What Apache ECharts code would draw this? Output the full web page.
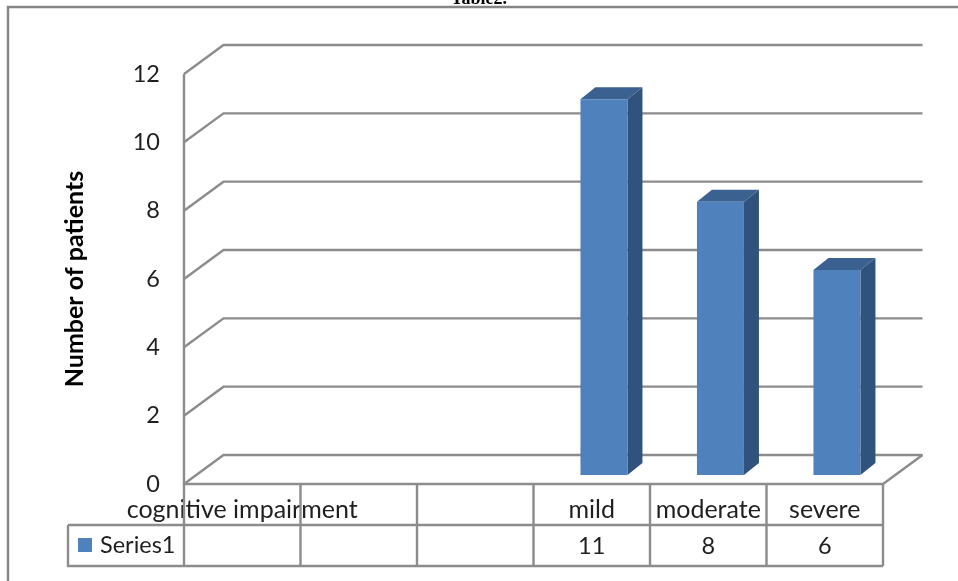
<!DOCTYPE html>
<html><head><meta charset="utf-8">
<style>html,body{margin:0;padding:0;background:#fff}#c{width:958px;height:581px}</style>
<script src="https://cdn.jsdelivr.net/npm/echarts@6/dist/echarts.min.js"></script>
</head><body><div id="c"></div>
<script>
var categories = ['cognitive impairment', '', '', 'mild', 'moderate', 'severe'];
var seriesName = 'Series1';
var seriesValues = [null, null, null, 11, 8, 6];
var yTicks = [0, 2, 4, 6, 8, 10, 12];
var yTitle = 'Number of patients';
var topText = 'Table2.';

var FONT = 'Lato';
var GRID = '#8c8c8c';
var TXT = '#1f1f1f';
var chart = echarts.init(document.getElementById('c'), null, {renderer: 'canvas'});
var DX = 39.5, DY = -29;
var ln = function (pts, w) {
  return {type: 'polyline', shape: {points: pts}, silent: true,
    style: {fill: null, stroke: GRID, lineWidth: w || 2.4, lineJoin: 'miter'}};
};
var ROW1 = 525, ROW2 = 566, TABLE_LEFT = 68;

chart.setOption({
  animation: false,
  backgroundColor: '#fff',
  legend: {
    data: [seriesName], left: 78, top: 533, itemWidth: 14, itemHeight: 14, itemGap: 0,
    icon: 'rect', textStyle: {fontFamily: FONT, fontSize: 23.5, color: TXT, padding: [0, 0, 0, 3]},
    padding: 0, selectedMode: false
  },
  grid: {left: 184, top: 74, width: 699, height: 410},
  xAxis: {
    type: 'category', data: categories, boundaryGap: true,
    axisLine: {show: false}, axisTick: {show: false}, splitLine: {show: false},
    axisLabel: {interval: 0, hideOverlap: false, margin: 13, fontFamily: FONT, fontSize: 25, color: TXT}
  },
  yAxis: {
    type: 'value', min: 0, max: 12, interval: 2,
    name: yTitle, nameLocation: 'middle', nameRotate: 90, nameGap: 97,
    nameTextStyle: {fontFamily: FONT, fontSize: 25, fontWeight: 'bold', color: '#000'},
    axisLine: {show: false}, axisTick: {show: false}, splitLine: {show: false},
    axisLabel: {margin: 24, fontFamily: FONT, fontSize: 23.5, color: TXT, padding: [3, 0, 0, 0]}
  },
  graphic: [
    {type: 'polyline', silent: true, shape: {points: [[8, 581], [8, 7], [958, 7]]},
      style: {fill: null, stroke: '#858585', lineWidth: 2.4}},
    {type: 'text', silent: true, x: 479, y: -10,
      style: {text: topText, fontFamily: 'Liberation Serif', fontSize: 18, fontWeight: 'bold', fill: '#000', align: 'center'}}
  ],
  series: [
    {
      type: 'custom', coordinateSystem: 'cartesian2d', z: 1, silent: true,
      encode: {y: 0}, data: yTicks.map(function (t) { return [t]; }),
      renderItem: function (p, api) {
        var y = api.coord([0, api.value(0)])[1];
        var x0 = p.coordSys.x, x1 = x0 + p.coordSys.width;
        return ln([[x0, y], [x0 + DX, y + DY], [x1 + DX, y + DY]]);
      }
    },
    {
      type: 'custom', coordinateSystem: 'cartesian2d', z: 2, silent: true,
      data: [[0]],
      renderItem: function (p) {
        var c = p.coordSys, x0 = c.x, x1 = c.x + c.width, yT = c.y, yB = c.y + c.height;
        var kids = [
          ln([[x0, yT], [x0, yB], [x1, yB], [x1 + DX, yB + DY]]),
          ln([[TABLE_LEFT, ROW1], [x1, ROW1]]),
          ln([[TABLE_LEFT, ROW1], [TABLE_LEFT, ROW2], [x1, ROW2]])
        ];
        for (var i = 0; i <= categories.length; i++) {
          var x = x0 + c.width * i / categories.length;
          kids.push(ln([[x, yB], [x, ROW2]]));
        }
        return {type: 'group', children: kids};
      }
    },
    {
      name: seriesName, type: 'custom', coordinateSystem: 'cartesian2d', z: 3,
      itemStyle: {color: '#4F81BD'},
      encode: {x: 0, y: 1},
      data: seriesValues.map(function (v, i) { return [i, v]; }),
      renderItem: function (p, api) {
        if (api.value(1) == null || isNaN(api.value(1))) return null;
        var idx = api.value(0), v = api.value(1);
        var top = api.coord([idx, v]), base = api.coord([idx, 0]);
        var w = 47, ox = 12.2, oy = -9, dx = 15, dy = -12;
        var l = top[0] - w / 2 + ox, r = l + w, t = top[1] + oy, b = base[1] + oy;
        return {type: 'group', children: [
          {type: 'polygon', shape: {points: [[r, t], [r + dx, t + dy], [r + dx, b + dy], [r, b]]}, style: {fill: '#30537D'}},
          {type: 'polygon', shape: {points: [[l, t], [l + dx, t + dy], [r + dx, t + dy], [r, t]]}, style: {fill: '#3A6190'}},
          {type: 'rect', shape: {x: l, y: t, width: w, height: b - t}, style: {fill: '#4F81BD'}}
        ]};
      }
    },
    {
      type: 'custom', coordinateSystem: 'cartesian2d', z: 4, silent: true,
      encode: {x: 0},
      data: seriesValues.map(function (v, i) { return [i, v == null ? '' : String(v)]; }),
      renderItem: function (p, api) {
        var x = api.coord([api.value(0), 0])[0];
        var s = seriesValues[api.value(0)];
        if (s == null) return null;
        return {type: 'text', x: x, y: (ROW1 + ROW2) / 2 + 1,
          style: {text: String(s), fontFamily: FONT, fontSize: 23.5, fill: TXT, align: 'center', verticalAlign: 'middle'}};
      }
    }
  ]
});
</script></body></html>
